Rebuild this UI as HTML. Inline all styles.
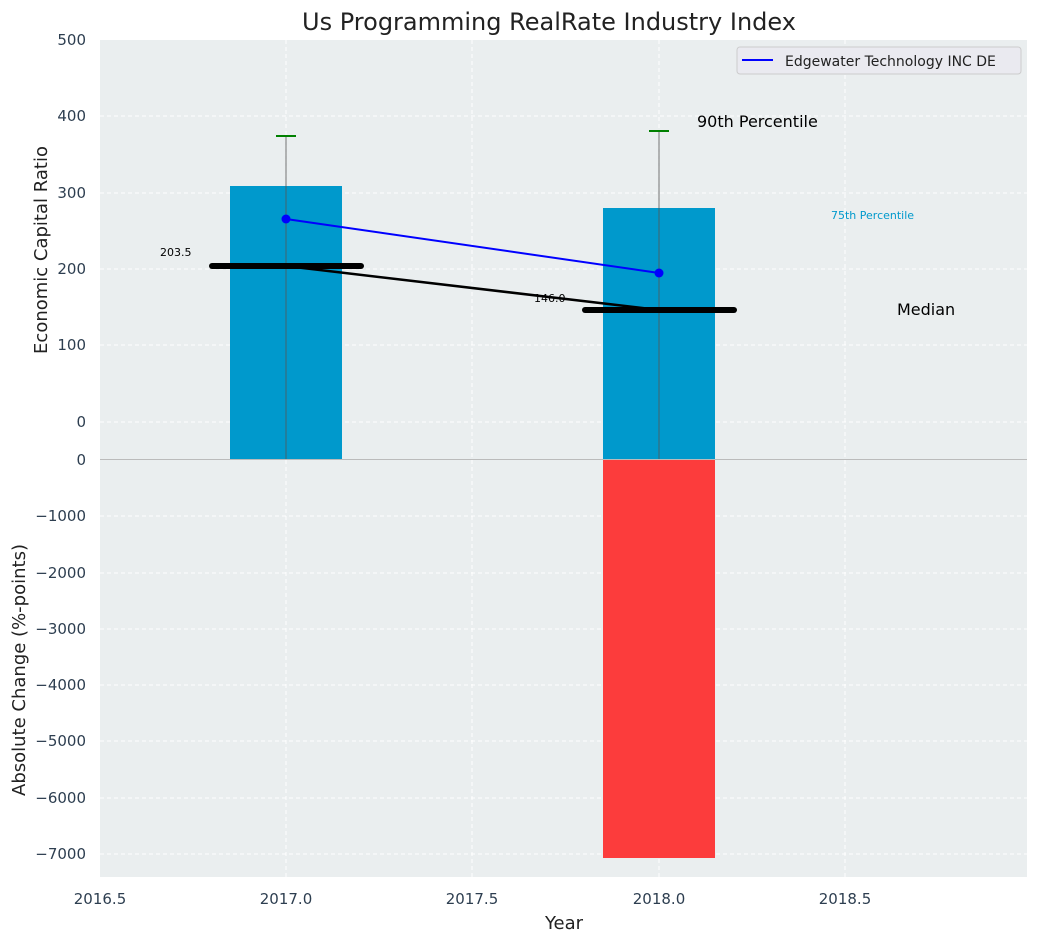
<!DOCTYPE html>
<html><head><meta charset="utf-8"><style>body{margin:0;background:#fff}svg{display:block}text{font-family:"DejaVu Sans","Liberation Sans",sans-serif}</style></head><body>
<svg width="1039" height="942" viewBox="0 0 1039 942">
<rect width="1039" height="942" fill="#fff"/>
<rect x="100" y="40" width="927" height="837" fill="#eaeeef"/>
<g stroke="#fff" stroke-dasharray="4,3" stroke-width="1">
<line x1="100" x2="1027" y1="116" y2="116"/><line x1="100" x2="1027" y1="193" y2="193"/><line x1="100" x2="1027" y1="269" y2="269"/><line x1="100" x2="1027" y1="345" y2="345"/><line x1="100" x2="1027" y1="422" y2="422"/>
<line x1="100" x2="1027" y1="516" y2="516"/><line x1="100" x2="1027" y1="573" y2="573"/><line x1="100" x2="1027" y1="629" y2="629"/><line x1="100" x2="1027" y1="685" y2="685"/><line x1="100" x2="1027" y1="741" y2="741"/><line x1="100" x2="1027" y1="798" y2="798"/><line x1="100" x2="1027" y1="854" y2="854"/>
<line x1="286" x2="286" y1="40" y2="877"/><line x1="472" x2="472" y1="40" y2="877"/><line x1="659" x2="659" y1="40" y2="877"/><line x1="845" x2="845" y1="40" y2="877"/>
</g>
<rect x="230" y="186" width="112" height="273" fill="#0099cc"/>
<rect x="603" y="208" width="112" height="251" fill="#0099cc"/>
<rect x="603" y="460" width="112" height="398" fill="#fc3c3c"/>
<line x1="100" x2="1027" y1="459.5" y2="459.5" stroke="#bbb"/>
<line x1="286" x2="286" y1="136" y2="459" stroke="#555" stroke-width="1" opacity="0.8"/>
<line x1="659" x2="659" y1="131" y2="459" stroke="#555" stroke-width="1" opacity="0.8"/>
<line x1="276" x2="296" y1="136" y2="136" stroke="green" stroke-width="2"/>
<line x1="649" x2="669" y1="131" y2="131" stroke="green" stroke-width="2"/>
<line x1="286" y1="266" x2="659" y2="310" stroke="#000" stroke-width="2.5"/>
<line x1="212" x2="361" y1="266" y2="266" stroke="#000" stroke-width="6" stroke-linecap="round"/>
<line x1="585" x2="734" y1="310" y2="310" stroke="#000" stroke-width="6" stroke-linecap="round"/>
<line x1="286" y1="219" x2="659" y2="273" stroke="#0000ff" stroke-width="2"/>
<circle cx="286" cy="219" r="4.5" fill="#0000ff"/><circle cx="659" cy="273" r="4.5" fill="#0000ff"/>
<text x="160" y="256" font-size="11">203.5</text>
<text x="534" y="302" font-size="11">146.0</text>
<text x="697" y="127" font-size="16">90th Percentile</text>
<text x="831" y="219" font-size="11" fill="#0099cc">75th Percentile</text>
<text x="897" y="315" font-size="16">Median</text>
<rect x="737" y="47" width="284" height="27" rx="3" fill="#eaeaf0" stroke="#ccc"/>
<line x1="742" x2="773" y1="60" y2="60" stroke="#0000ff" stroke-width="2"/>
<text x="785" y="66" font-size="14" fill="#222">Edgewater Technology INC DE</text>
<text x="549" y="30" font-size="24" text-anchor="middle" fill="#222">Us Programming RealRate Industry Index</text>
<g font-size="15" fill="#2d3e50" text-anchor="end">
<text x="86" y="45">500</text><text x="86" y="121">400</text><text x="86" y="198">300</text><text x="86" y="274">200</text><text x="86" y="350">100</text><text x="86" y="427">0</text>
<text x="86" y="465">0</text><text x="86" y="521">−1000</text><text x="86" y="578">−2000</text><text x="86" y="634">−3000</text><text x="86" y="690">−4000</text><text x="86" y="746">−5000</text><text x="86" y="803">−6000</text><text x="86" y="859">−7000</text>
</g>
<g font-size="15" fill="#2d3e50" text-anchor="middle">
<text x="100" y="904">2016.5</text><text x="286" y="904">2017.0</text><text x="472" y="904">2017.5</text><text x="659" y="904">2018.0</text><text x="845" y="904">2018.5</text>
</g>
<text x="564" y="929" font-size="18" text-anchor="middle" fill="#222">Year</text>
<text transform="translate(47,250) rotate(-90)" font-size="18" text-anchor="middle" fill="#222">Economic Capital Ratio</text>
<text transform="translate(25,670) rotate(-90)" font-size="18" text-anchor="middle" fill="#222">Absolute Change (%-points)</text>
</svg>
</body></html>
